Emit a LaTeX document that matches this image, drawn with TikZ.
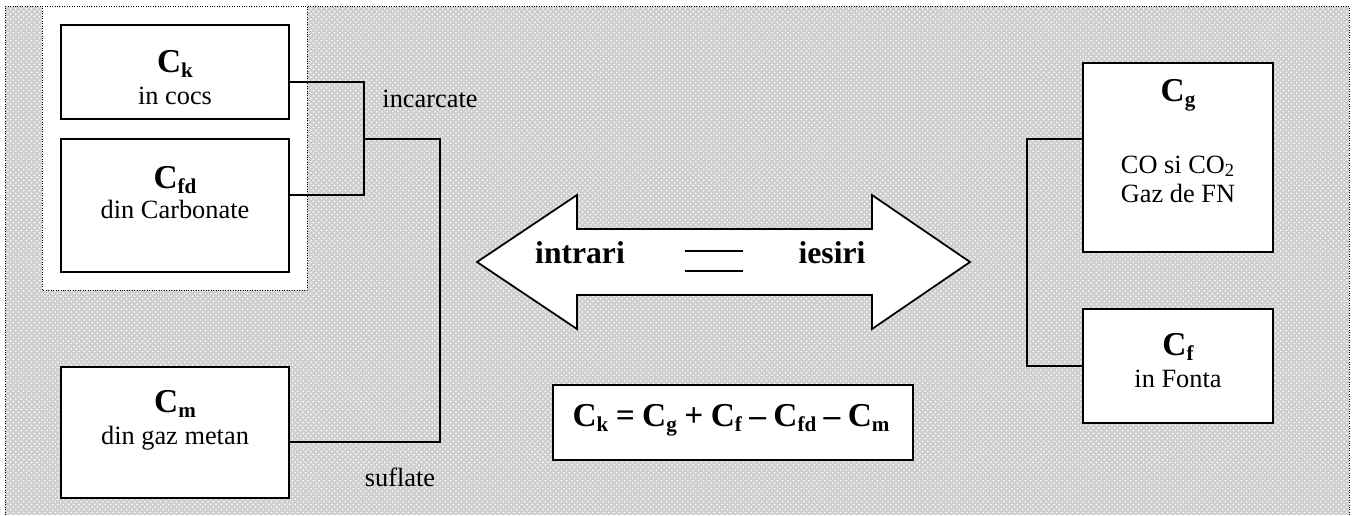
\documentclass[tikz,border=0pt]{standalone}
\usepackage{fontspec}
\setmainfont{Liberation Serif}
\usetikzlibrary{patterns}
\newcommand{\csym}[1]{{\fontsize{19}{22}\selectfont\bfseries C\raisebox{-3pt}{\fontsize{12}{14}\selectfont #1}}}

\begin{document}
\begin{tikzpicture}[x=0.02cm,y=-0.02cm,
    box/.style={draw,line width=1pt,fill=white,inner sep=0pt},
    sym/.style={anchor=base,inner sep=0pt},
    lbl/.style={anchor=base,inner sep=0pt,font=\fontsize{15}{18}\selectfont},
    big/.style={anchor=base,inner sep=0pt,font=\fontsize{18}{21}\selectfont\bfseries},
    wire/.style={line width=1pt}]
  \useasboundingbox (0,0) rectangle (1359,515);
  % background
  \fill[gray!38] (5,6) rectangle (1349,515);
  \fill[pattern=crosshatch dots,pattern color=white] (5,6) rectangle (1349,515);
  \draw[densely dotted] (5,515) -- (5,6) -- (1349,6) -- (1349,515);
  \draw[densely dotted,fill=white] (42,6) rectangle (307,290);
  % inputs
  \node[box,minimum width=4.56cm,minimum height=1.88cm] (Ck) at (175,72) {};
  \node[box,minimum width=4.56cm,minimum height=2.66cm] (Cfd) at (175,205.5) {};
  \node[box,minimum width=4.56cm,minimum height=2.62cm] (Cm) at (175,432.5) {};
  \node[sym] (CkS) at (175,72) {\csym{k}};
  \node[lbl] (CkT) at (175,104) {in cocs};
  \node[sym] (CfdS) at (175,188) {\csym{fd}};
  \node[lbl] (CfdT) at (175,218) {din Carbonate};
  \node[sym] (CmS) at (175,412) {\csym{m}};
  \node[lbl] (CmT) at (175,444) {din gaz metan};
  % outputs
  \node[box,minimum width=3.8cm,minimum height=3.78cm] (Cg) at (1178,157.5) {};
  \node[box,minimum width=3.8cm,minimum height=2.28cm] (Cf) at (1178,366) {};
  \node[sym] (CgS) at (1178,101) {\csym{g}};
  \node[lbl] (CgT) at (1178,173) {CO si CO\textsubscript{2}};
  \node[lbl] (CgU) at (1178,202) {Gaz de FN};
  \node[sym] (CfS) at (1178,355) {\csym{f}};
  \node[lbl] (CfT) at (1178,387) {in Fonta};
  % wires
  \coordinate (jL) at (364,139);
  \coordinate (jM) at (440,300);
  \coordinate (jG) at (1027,250);
  \draw[wire] ([yshift=-0.2cm]Ck.east) -| (jL) |- ([yshift=0.21cm]Cfd.east);
  \draw[wire] (jL) -| (jM) |- ([yshift=-0.19cm]Cm.east);
  \draw[wire] ([yshift=0.37cm]Cg.west) -| (jG) |- (Cf.west);
  \node[lbl] (inc) at (430,107) {incarcate};
  \node[lbl] (suf) at (400,486) {suflate};
  % balance arrow
  \draw[line width=1pt,fill=white] (477,262) -- (577,195) -- (577,229) -- (872,229)
    -- (872,195) -- (970,262) -- (872,329) -- (872,295) -- (577,295) -- (577,329) -- cycle;
  \node[big] (intr) at (580,263) {intrari};
  \node[big] (ies) at (832,263) {iesiri};
  \draw[line width=1pt] (685,251) -- (743,251);
  \draw[line width=1pt] (685,271) -- (743,271);
  % formula
  \node[box,minimum width=7.2cm,minimum height=1.5cm] (form) at (733,422.5) {};
  \node[sym,font=\fontsize{19}{22}\selectfont\bfseries] (formT) at (731,426)
    {\csym{k}\:=\:\csym{g}\:+\:\csym{f}\:--\:\csym{fd}\:--\:\csym{m}};
\end{tikzpicture}
\end{document}
